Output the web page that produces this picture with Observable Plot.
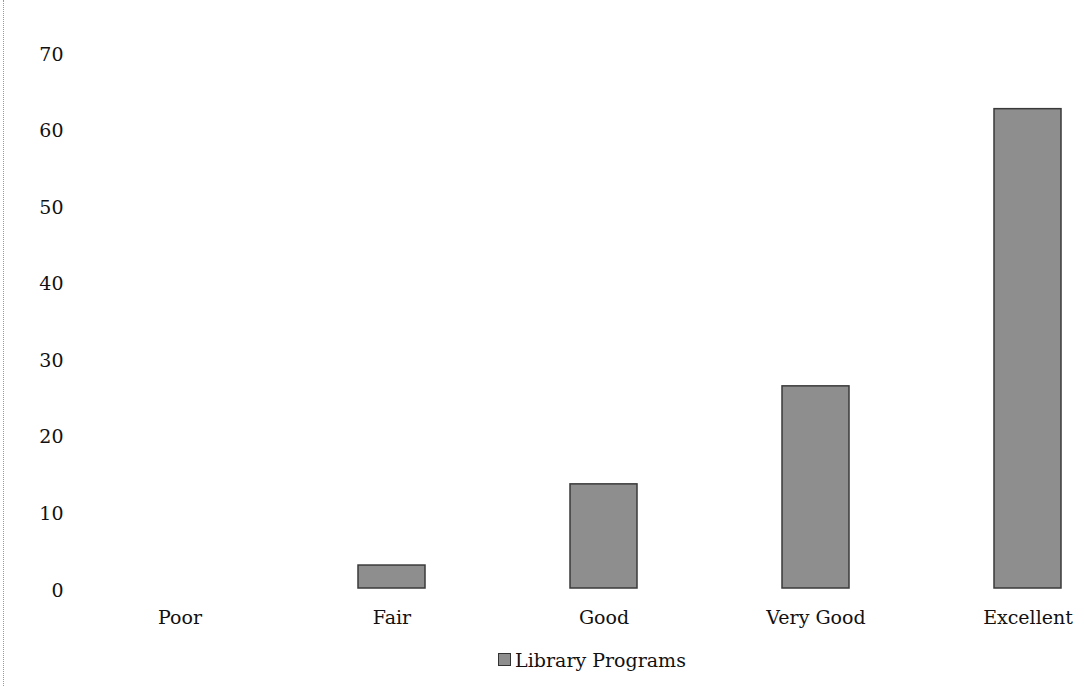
<!DOCTYPE html>
<html>
<head>
<meta charset="utf-8">
<script src="https://cdn.jsdelivr.net/npm/d3@7"></script>
<script src="https://cdn.jsdelivr.net/npm/@observablehq/plot@0.6"></script>
<style>
  html, body { margin: 0; padding: 0; background: #fff; }
  #wrap { position: relative; width: 1084px; height: 686px; overflow: hidden; }
  #edge { position: absolute; left: 3px; top: 0; height: 686px; border-left: 1px dotted #9a9a9a; }
  #legend { position: absolute; top: 649px; left: 0; width: 1184px; text-align: center;
            font-family: "DejaVu Serif", "Liberation Serif", serif; font-size: 19px; color: #111; }
  #legend .sw { display: inline-block; width: 11px; height: 11px; background: #8e8e8e;
                border: 1px solid #333; margin-right: 4px; vertical-align: 1px; }
</style>
</head>
<body>
<div id="wrap">
  <div id="edge"></div>
  <div id="chart"></div>
  <div id="legend"><span class="sw"></span>Library Programs</div>
</div>
<script>
const categories = ["Poor", "Fair", "Good", "Very Good", "Excellent"];
const values = [0, 3, 13.6, 26.4, 62.6];
const yTicks = [0, 10, 20, 30, 40, 50, 60, 70];

const data = categories.map((c, i) => ({category: c, value: values[i]}));

const chart = Plot.plot({
  width: 1084,
  height: 640,
  marginLeft: 73,
  marginRight: 0,
  marginTop: 52,
  marginBottom: 52,
  style: {fontFamily: "DejaVu Serif, Liberation Serif, serif", fontSize: "19px", color: "#111", background: "transparent"},
  x: {domain: categories, range: [73, 1133], paddingInner: 0.684, paddingOuter: 0.342, label: null},
  y: {domain: [0, 70], label: null},
  marks: [
    Plot.barY(data.filter(d => d.value > 0), {x: "category", y: "value", fill: "#8e8e8e", stroke: "#3a3a3a", strokeWidth: 1.5}),
    Plot.axisX({tickSize: 0, tickPadding: 22, fontSize: 19}),
    Plot.axisY({ticks: yTicks, tickSize: 0, tickPadding: 10, fontSize: 19, dy: 2})
  ]
});
document.getElementById("chart").appendChild(chart);
</script>
</body>
</html>
